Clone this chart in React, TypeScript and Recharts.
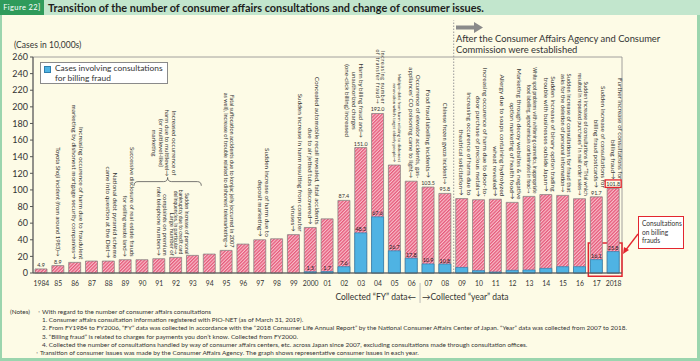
import React from "react";
import {
  BarChart,
  Bar,
  XAxis,
  YAxis,
  LabelList,
  ReferenceArea,
  ReferenceLine,
} from "recharts";

const years = [
  "1984", "85", "86", "87", "88", "89", "90", "91", "92", "93", "94", "95",
  "96", "97", "98", "99", "2000", "01", "02", "03", "04", "05", "06", "07",
  "08", "09", "10", "11", "12", "13", "14", "15", "16", "17", "2018",
];

// consumer affairs consultations (10,000 cases)
const totalCases = [
  4.9, 8.9, 12.8, 14.4, 14.4, 16.0, 16.0, 17.2, 18.8, 21.2, 22.8, 27.2,
  34.8, 40.0, 41.2, 46.2, 54.8, 65.2, 87.4, 151.0, 192.0, 130.0, 110.5, 103.5,
  95.8, 89.6, 88.2, 88.8, 85.0, 92.2, 94.4, 93.4, 89.4, 91.7, 101.8,
];

// of which billing fraud
const billingFraud = [
  null, null, null, null, null, null, null, null, null, null, null, null,
  null, null, null, null, 1.5, 1.7, 7.6, 48.3, 67.6, 26.7, 17.8, 10.9,
  10.8, 6.7, 2.8, 1.2, 3.2, 3.6, 5.6, 7.6, 7.6, 16.1, 25.8,
];

const yTicks = [0, 20, 40, 60, 80, 100, 120, 140, 160, 180, 200, 220, 240, 260];

const totalLabelYears = ["1984", "85", "02", "03", "04", "07", "08", "17", "2018"];
const fraudLabelYears = ["2000", "01", "02", "03", "04", "05", "06", "07", "08", "17", "2018"];

type Note = { year: string; lines: string[]; size?: number; arrow?: number; mid?: boolean; ls?: number };

const notes: Note[] = [
  { year: "85", lines: ["Toyota Shoji incident (from around 1983)→"], size: 5.8 },
  { year: "86", lines: ["Increasing occurence of harm due to fraudulent", "marketing by dishonest mortgage security companies→"] },
  { year: "88", lines: ["National debt pyramid scheme", "came into question at the Diet→"] },
  { year: "89", lines: ["Successive disclosure of real estate frauds", "for selling waste land→"], size: 6 },
  { year: "91", lines: ["Large number of", "complaints on premium", "rate telephone numbers→"], size: 6 },
  { year: "92", lines: ["Sudden increase of personal", "bankruptcy due to credit card", "delinquencies, in particular→"], size: 5 },
  { year: "95", lines: ["Fatal suffocation accidents due to konjac jelly (occurred in 2007", "as well), increase of trouble related to dishonest telemarketing→"], size: 5.5 },
  { year: "97", lines: ["Sudden increase of harm due to", "deposit marketing→"] },
  { year: "99", lines: ["Sudden increase in harm resulting from computer", "viruses→"] },
  { year: "2000", lines: ["Concealed automobile recall revealed, fatal accidents", "due to air jetted tubs discovered→"], size: 6.4 },
  { year: "03", lines: ["Harm by billing fraud and→", "unauthorized charges", "(one-click billing) increased"], arrow: 0, mid: true, size: 6.2 },
  { year: "04", lines: ["Increasing number", "of transfer fraud→"], size: 5, ls: 0.8 },
  { year: "05", lines: ["Multiple-debt from harm relating to dishonest", "renovation which target elderly people→"], size: 4.4 },
  { year: "06", lines: ["Occurrence of elevator accidents, gas-", "appliances' CO poisoning came to light→"], size: 6.2 },
  { year: "07", lines: ["Food fraud labelling incidents→"] },
  { year: "08", lines: ["Chinese frozen gyoza incident→"], size: 5.8 },
  { year: "09", lines: ["Increasing occurence of harm due to", "theatrical solicitation→"], size: 6.5 },
  { year: "10", lines: ["Increasing occurence of harm due to door-to-", "door purchase of precious metals→"], size: 6.5 },
  { year: "11", lines: ["Allergy due to soaps containing hydrolyzed", "wheat revealed→"], size: 6.5 },
  { year: "12", lines: ["Marketing through decoy websites & negative", "option marketing of health food→"], size: 6.5 },
  { year: "13", lines: ["White spot problems with whitening cosmetics, inappropriate", "food labelling, agrochemicals contaminated in food→"], size: 4.7 },
  { year: "14", lines: ["Sudden increase of binary option trading", "trouble with businesses outside Japan→"], size: 6.5 },
  { year: "15", lines: ["Sudden increase of consultations for fraud that", "asks for the deletion of personal information→"], size: 5.8 },
  { year: "16", lines: ["Sudden increase of consultations for \u201CTrial which", "resulted in repeated purchases\u201D in mail order sales→"], size: 5.4 },
  { year: "17", lines: ["Sudden increase of consultations for", "billing fraud postcards→"] },
  { year: "2018", lines: ["Further increase of consultations for", "billing fraud→"] },
];

const bracketNote = ["Increased occurrence of", "harm due to multilevel→", "(or multilevel-like)", "marketing"];

const noteLines = [
  "1. Consumer affairs consultation information registered with PIO-NET (as of March 31, 2019).",
  "2. From FY1984 to FY2006, \u201CFY\u201D data was collected in accordance with the \u201C2018 Consumer Life Annual Report\u201D by the National Consumer Affairs Center of Japan. \u201CYear\u201D data was collected from 2007 to 2018.",
  "3. \u201CBilling fraud\u201D is related to charges for payments you don\u2019t know. Collected from FY2000.",
  "4. Collected the number of consultations handled by way of consumer affairs centers, etc. across Japan since 2007, excluding consultations made through consultation offices.",
];

const chartData = years.map((year, i) => ({
  year,
  total: totalCases[i],
  fraud: billingFraud[i],
}));

const FONT = "Lato, 'DejaVu Sans', sans-serif";
const RED = "#e3262f";
const INK = "#333";

function rotatedLines(lines: string[], cx: number, endY: number, size: number, arrow: number, mid: boolean, ls = 0) {
  const gap = size * 1.1;
  const est = lines[arrow].length * (size * 0.47 + ls);
  const ly = mid ? endY - est / 2 : endY;
  return lines.map((line, k) => {
    const lx = cx + (arrow - k) * gap - size * 0.35;
    return (
      <text
        key={k}
        x={lx}
        y={ly}
        transform={`rotate(90 ${lx} ${ly})`}
        textAnchor={mid ? "middle" : "end"}
        fontSize={size}
        letterSpacing={ls}
        fill={INK}
        fontFamily={FONT}
      >
        {line}
      </text>
    );
  });
}

// LabelList dataKey is "year", so props.value is the category
const renderTotalLabel = (props: any) => {
  const vb = props.viewBox ?? props;
  const { x, y, width } = vb;
  const year = String(props.value);
  const i = years.indexOf(year);
  const cx = x + width / 2;
  const labelled = totalLabelYears.includes(year);
  const note = notes.find((n) => n.year === year);
  return (
    <g key={`t-${year}`}>
      {labelled && (
        <text x={cx} y={y - 2} textAnchor="middle" fontSize={5.4} fill={INK} fontFamily={FONT}>
          {Number(totalCases[i]).toFixed(1)}
        </text>
      )}
      {labelled && year === "2018" && (
        <rect x={cx - 8} y={y - 8.5} width={16} height={7.5} fill="none" stroke={RED} strokeWidth={1.3} />
      )}
      {note &&
        rotatedLines(
          note.lines,
          cx,
          y - (labelled ? 9 : 3),
          note.size ?? 6.4,
          note.arrow ?? note.lines.length - 1,
          !!note.mid,
          note.ls ?? 0
        )}
    </g>
  );
};

const renderFraudLabel = (props: any) => {
  const vb = props.viewBox ?? props;
  const { x, y, width } = vb;
  const year = String(props.value);
  const i = years.indexOf(year);
  if (!fraudLabelYears.includes(year) || billingFraud[i] == null) return null;
  return (
    <text key={`f-${year}`} x={x + width / 2} y={y - 1.5} textAnchor="middle" fontSize={5.4} fill="#222" fontFamily={FONT}>
      {Number(billingFraud[i]).toFixed(1)}
    </text>
  );
};

const renderBrace = (props: any) => {
  const { x, y, width, height } = props;
  const cx = x + width / 2;
  const my = y + height / 2;
  const b = y + height;
  const d = `M${x},${b} Q${x},${my} ${x + 4},${my} L${cx - 4},${my} Q${cx},${my} ${cx},${y} Q${cx},${my} ${cx + 4},${my} L${x + width - 4},${my} Q${x + width},${my} ${x + width},${b}`;
  return (
    <g>
      <path d={d} fill="none" stroke="#555" strokeWidth={0.8} />
      {rotatedLines(bracketNote, cx, y - 1, 6.2, 1, true)}
    </g>
  );
};

export default function App() {
  return (
    <div
      style={{
        position: "relative",
        width: 700,
        height: 361,
        background: "#fdfbe6",
        boxShadow: "inset 2px 0 #9bd5ae, inset -3px 0 #9bd5ae, inset 0 -3px #9bd5ae",
        fontFamily: FONT,
        color: INK,
        overflow: "hidden",
      }}
    >
      <style>{"body{margin:0}"}</style>

      {/* title bar */}
      <div style={{ position: "absolute", left: 0, top: 0, width: 700, height: 15, background: "#c2e6cd" }} />
      <div
        style={{
          position: "absolute",
          left: 0,
          top: 0,
          width: 44,
          height: 15,
          background: "#2f9b5b",
          color: "#fff",
          fontSize: 7.5,
          lineHeight: "15px",
          textAlign: "center",
          letterSpacing: 0.4,
        }}
      >
        Figure 22]
      </div>
      <div style={{ position: "absolute", left: 48, top: 0, fontSize: 10.9, fontWeight: 700, lineHeight: "15px", color: "#1e1e1e", whiteSpace: "nowrap" }}>
        Transition of the number of consumer affairs consultations and change of consumer issues.
      </div>

      <BarChart
        width={700}
        height={361}
        data={chartData}
        margin={{ top: 57, right: 78, bottom: 58, left: 3 }}
        barCategoryGap="28%"
      >
        <defs>
          <pattern id="hatch" patternUnits="userSpaceOnUse" width={2.4} height={2.4} patternTransform="rotate(45)">
            <rect width={2.4} height={2.4} fill="#f8c0cb" />
            <rect width={1.3} height={2.4} fill="#e65a7b" />
          </pattern>
        </defs>
        <XAxis
          xAxisId="x"
          dataKey="year"
          interval={0}
          tick={{ fontSize: 6.8, fill: INK, fontFamily: FONT }}
          tickLine={false}
          tickMargin={2}
          axisLine={{ stroke: "#555" }}
          height={30}
        />
        <XAxis xAxisId="xb" dataKey="year" hide />
        <YAxis
          domain={[0, 260]}
          ticks={yTicks}
          interval={0}
          width={30}
          tickSize={3}
          tick={{ fontSize: 9, fill: INK, fontFamily: FONT }}
          axisLine={{ stroke: "#555" }}
          tickLine={{ stroke: "#555" }}
        />
        <ReferenceArea xAxisId="x" x1="1984" x2="2018" y1={0} y2={260} fill="none" stroke="#8c8c8c" strokeWidth={0.8} />
        <ReferenceLine
          xAxisId="x"
          segment={[{ x: "09", y: 0 }, { x: "09", y: 304 }]}
          position="start"
          ifOverflow="visible"
          stroke="#9a9a9a"
          strokeWidth={1}
          strokeDasharray="1.5 1.5"
        />
        <ReferenceLine
          xAxisId="x"
          segment={[{ x: "07", y: -12 }, { x: "07", y: -36 }]}
          position="start"
          ifOverflow="visible"
          stroke="#aaa"
          strokeWidth={0.8}
        />
        <Bar xAxisId="x" dataKey="total" fill="url(#hatch)" stroke="#7d7d7d" strokeWidth={0.7} barSize={12} isAnimationActive={false}>
          <LabelList dataKey="year" content={renderTotalLabel} />
        </Bar>
        <Bar xAxisId="xb" dataKey="fraud" fill="#4fb3e3" stroke="#2f7fae" strokeWidth={0.7} barSize={12} isAnimationActive={false}>
          <LabelList dataKey="year" content={renderFraudLabel} />
        </Bar>
        <ReferenceArea xAxisId="x" x1="90" x2="93" y1={105} y2={115} ifOverflow="visible" shape={renderBrace} />
        <ReferenceArea
          xAxisId="x"
          x1="17"
          x2="2018"
          y1={-4}
          y2={36}
          ifOverflow="visible"
          fill="none"
          stroke={RED}
          strokeWidth={1.5}
        />
      </BarChart>

      {/* axis title */}
      <div style={{ position: "absolute", left: 14, top: 40, fontSize: 8.5, lineHeight: "10px" }}>(Cases in 10,000s)</div>

      {/* legend */}
      <div
        style={{
          position: "absolute",
          left: 40,
          top: 62,
          width: 128,
          height: 22,
          boxSizing: "border-box",
          border: "1px solid #8a8a8a",
          background: "#fff",
          fontSize: 8.4,
          lineHeight: "9.5px",
          padding: "1px 2px 0 14px",
        }}
      >
        <span
          style={{
            position: "absolute",
            left: 3,
            top: 3,
            width: 7,
            height: 7,
            background: "#4fb3e3",
            border: "1px solid #2f7fae",
            boxSizing: "border-box",
          }}
        />
        Cases involving consultations
        <br />
        for billing fraud
      </div>

      {/* agency establishment marker */}
      <svg style={{ position: "absolute", left: 455, top: 21 }} width={32} height={14}>
        <path d="M1,4.5 L19,4.5 L19,1 L28,6.5 L19,12 L19,8.5 L1,8.5 Z" fill="#8a8a8a" />
      </svg>
      <div style={{ position: "absolute", left: 456, top: 33, fontSize: 9.4, lineHeight: "11px", whiteSpace: "nowrap" }}>
        After the Consumer Affairs Agency and Consumer
        <br />
        Commission were established
      </div>

      {/* FY / year split */}
      <div style={{ position: "absolute", right: 700 - 416, top: 292, fontSize: 8.5, lineHeight: "11px", whiteSpace: "nowrap" }}>
        Collected “FY” data←
      </div>
      <div style={{ position: "absolute", left: 422, top: 292, fontSize: 8.5, lineHeight: "11px", whiteSpace: "nowrap" }}>
        →Collected “year” data
      </div>

      {/* callout */}
      <div
        style={{
          position: "absolute",
          left: 638,
          top: 216,
          width: 46,
          height: 33,
          boxSizing: "border-box",
          border: `1.5px solid ${RED}`,
          background: "#fff",
          fontSize: 6.6,
          lineHeight: "8.5px",
          padding: "2px 3px",
        }}
      >
        Consultations
        <br />
        on billing
        <br />
        frauds
      </div>
      <svg style={{ position: "absolute", left: 620, top: 230 }} width={20} height={26}>
        <line x1={18} y1={4} x2={5} y2={21} stroke={RED} strokeWidth={1.3} />
        <path d="M3,24 L4,17 L9,20 Z" fill={RED} />
      </svg>

      {/* notes */}
      <div style={{ position: "absolute", left: 10, top: 308, fontSize: 6.4, lineHeight: "8.2px", whiteSpace: "nowrap" }}>
        <div>
          (Notes)<span style={{ marginLeft: 6 }}>・With regard to the number of consumer affairs consultations</span>
        </div>
        {noteLines.map((l) => (
          <div key={l} style={{ paddingLeft: 32 }}>
            {l}
          </div>
        ))}
        <div style={{ paddingLeft: 24 }}>
          ・Transition of consumer issues was made by the Consumer Affairs Agency. The graph shows representative consumer issues in each year.
        </div>
      </div>
    </div>
  );
}
